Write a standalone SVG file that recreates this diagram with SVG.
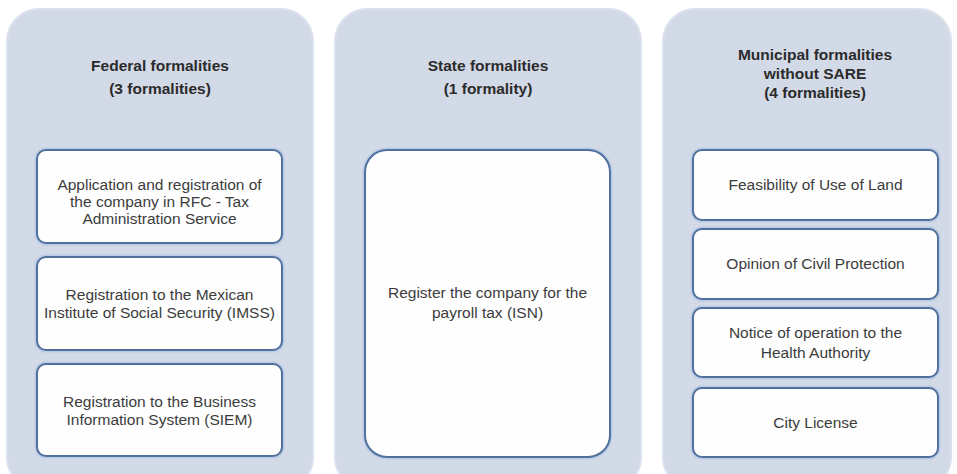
<svg xmlns="http://www.w3.org/2000/svg" width="957" height="474" viewBox="0 0 957 474">
<style>
.panel{fill:#d3dae7;stroke:#dbe1ec;stroke-width:2}
.box{fill:#fefefe;stroke:#52709c;stroke-width:2}
.halo{fill:none;stroke:#b9cbe6;stroke-width:5}
.title{font-family:"Liberation Sans",Arial,sans-serif;font-size:15.5px;font-weight:bold;fill:#2b2b2b;text-anchor:middle}
.txt{font-family:"Liberation Sans",Arial,sans-serif;font-size:15.5px;fill:#3c3c3c;text-anchor:middle}
</style>
<rect width="957" height="474" fill="#ffffff"/>
<g id="federal">
<rect class="panel" x="7" y="9" width="306" height="480" rx="32"/>
<text class="title" x="160" y="71">Federal formalities</text>
<text class="title" x="160" y="94">(3 formalities)</text>
</g>
<g id="state">
<rect class="panel" x="335" y="9" width="306" height="480" rx="32"/>
<text class="title" x="488" y="71">State formalities</text>
<text class="title" x="488" y="94">(1 formality)</text>
</g>
<g id="municipal">
<rect class="panel" x="663" y="9" width="288" height="480" rx="32"/>
<text class="title" x="815" y="60">Municipal formalities</text>
<text class="title" x="815" y="79">without SARE</text>
<text class="title" x="815" y="98">(4 formalities)</text>
</g>
<g id="fed1">
<rect class="halo" x="37" y="150" width="245" height="93" rx="9"/>
<rect class="box" x="37" y="150" width="245" height="93" rx="9"/>
<text class="txt" x="159.5" y="190">Application and registration of</text>
<text class="txt" x="159.5" y="207">the company in RFC - Tax</text>
<text class="txt" x="159.5" y="224">Administration Service</text>
</g>
<g id="fed2">
<rect class="halo" x="37" y="257" width="245" height="93" rx="9"/>
<rect class="box" x="37" y="257" width="245" height="93" rx="9"/>
<text class="txt" x="159.5" y="300">Registration to the Mexican</text>
<text class="txt" x="159.5" y="318">Institute of Social Security (IMSS)</text>
</g>
<g id="fed3">
<rect class="halo" x="37" y="364" width="245" height="92" rx="9"/>
<rect class="box" x="37" y="364" width="245" height="92" rx="9"/>
<text class="txt" x="159.5" y="407">Registration to the Business</text>
<text class="txt" x="159.5" y="425">Information System (SIEM)</text>
</g>
<g id="state1">
<rect class="halo" x="365" y="150" width="245" height="307" rx="22"/>
<rect class="box" x="365" y="150" width="245" height="307" rx="22"/>
<text class="txt" x="487.5" y="298">Register the company for the</text>
<text class="txt" x="487.5" y="318">payroll tax (ISN)</text>
</g>
<g id="mun1">
<rect class="halo" x="693" y="150" width="245" height="70" rx="9"/>
<rect class="box" x="693" y="150" width="245" height="70" rx="9"/>
<text class="txt" x="815.5" y="190">Feasibility of Use of Land</text>
</g>
<g id="mun2">
<rect class="halo" x="693" y="229" width="245" height="70" rx="9"/>
<rect class="box" x="693" y="229" width="245" height="70" rx="9"/>
<text class="txt" x="815.5" y="269">Opinion of Civil Protection</text>
</g>
<g id="mun3">
<rect class="halo" x="693" y="308" width="245" height="69" rx="9"/>
<rect class="box" x="693" y="308" width="245" height="69" rx="9"/>
<text class="txt" x="815.5" y="338">Notice of operation to the</text>
<text class="txt" x="815.5" y="358">Health Authority</text>
</g>
<g id="mun4">
<rect class="halo" x="693" y="388" width="245" height="69" rx="9"/>
<rect class="box" x="693" y="388" width="245" height="69" rx="9"/>
<text class="txt" x="815.5" y="428">City License</text>
</g>
<g id="connectors"></g>
</svg>
